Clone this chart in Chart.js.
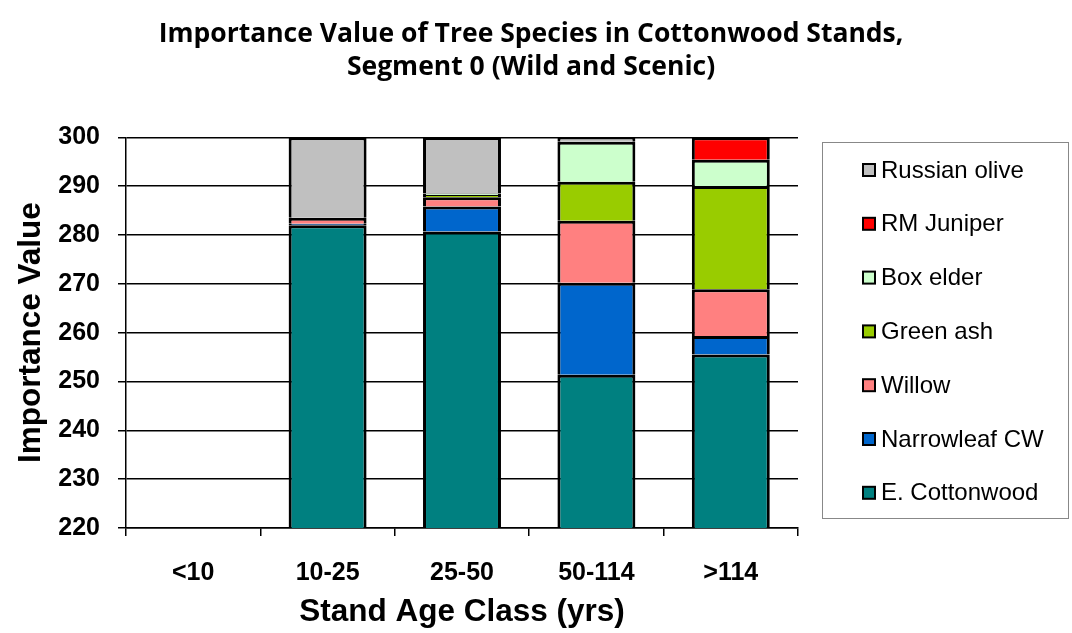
<!DOCTYPE html>
<html lang="en">
<head>
  <meta charset="UTF-8" />
  <title>Importance Value of Tree Species</title>
  <script src="https://cdn.jsdelivr.net/npm/chart.js"></script>
  <style>
    body {
      margin: 0;
      background: #fff;
    }
    .wrap {
      width: 1072px;
      height: 633px;
    }
  </style>
</head>
<body>

<div class="wrap">
  <canvas id="ivChart" width="1072" height="633"></canvas>
</div>

<script>
  const ageClasses = ['<10', '10-25', '25-50', '50-114', '>114'];

  // importance values per species, one entry per age class (stacks total 300)
  // null = species absent in that class
  const eCottonwood   = [null, 282.0, 280.7, 251.4, 255.5];
  const narrowleafCW  = [null, 0.3, 5.1, 18.8, 3.8];
  const willow        = [null, 1.2, 1.9, 12.7, 9.6];
  const greenAsh      = [null, null, 0.5, 8.0, 21.1];
  const boxElder      = [null, null, 0.3, 8.2, 5.4];
  const rmJuniper     = [null, null, null, null, 4.6];
  const russianOlive  = [null, 16.5, 11.5, 0.9, null];

  const yTicks = [220, 230, 240, 250, 260, 270, 280, 290, 300];

  const series = [
    { label: 'E. Cottonwood', data: eCottonwood, color: '#008080' },
    { label: 'Narrowleaf CW', data: narrowleafCW, color: '#0066CC' },
    { label: 'Willow', data: willow, color: '#FF8080' },
    { label: 'Green ash', data: greenAsh, color: '#99CC00' },
    { label: 'Box elder', data: boxElder, color: '#CCFFCC' },
    { label: 'RM Juniper', data: rmJuniper, color: '#FF0000' },
    { label: 'Russian olive', data: russianOlive, color: '#C0C0C0' }
  ];

  // boxed legend on the right, listed top-down in reverse stack order
  const boxLegend = {
    id: 'boxLegend',
    afterDraw(chart) {
      const ctx = chart.ctx;
      const x0 = 822, y0 = 142, w = 246, h = 376;
      ctx.save();
      ctx.strokeStyle = '#888';
      ctx.lineWidth = 1;
      ctx.strokeRect(x0 + 0.5, y0 + 0.5, w, h);
      ctx.font = '24px "Liberation Sans", Arial, sans-serif';
      ctx.textBaseline = 'middle';
      const items = chart.data.datasets.slice().reverse();
      items.forEach((ds, i) => {
        const cy = y0 + 28 + i * 53.8;
        ctx.fillStyle = ds.backgroundColor;
        ctx.fillRect(863, cy - 6, 12, 12);
        ctx.strokeStyle = '#000';
        ctx.lineWidth = 2;
        ctx.strokeRect(863, cy - 6, 12, 12);
        ctx.fillStyle = '#000';
        ctx.fillText(ds.label, 881, cy + 1);
      });
      ctx.restore();
    }
  };

  const axisFont = { family: '"Liberation Sans", Arial, sans-serif', weight: 'bold' };

  new Chart(document.getElementById('ivChart'), {
    type: 'bar',
    data: {
      labels: ageClasses,
      datasets: series.map(s => ({
        label: s.label,
        data: s.data,
        backgroundColor: s.color,
        borderColor: '#000',
        borderWidth: 3,
        // no bottom edge: the segment below supplies the dividing line
        borderSkipped: 'start',
        barPercentage: 0.58,
        categoryPercentage: 1
      }))
    },
    options: {
      responsive: false,
      animation: false,
      layout: { padding: { left: 0, right: 10, top: 0, bottom: 2 } },
      plugins: {
        legend: { display: false },
        tooltip: { enabled: false },
        title: {
          display: true,
          text: ['Importance Value of Tree Species in Cottonwood Stands,', 'Segment 0 (Wild and Scenic)'],
          color: '#000',
          font: { family: '"Open Sans", sans-serif', size: 26.5, weight: 'bold', lineHeight: 1.25 },
          padding: { top: 18, bottom: 53 }
        }
      },
      scales: {
        x: {
          stacked: true,
          grid: { offset: true, drawOnChartArea: false, color: '#000', lineWidth: 1.5, tickLength: 8 },
          border: { color: '#000', width: 1.5 },
          ticks: { color: '#000', font: { ...axisFont, size: 25 }, padding: 22 },
          title: {
            display: true,
            text: 'Stand Age Class (yrs)',
            color: '#000',
            font: { ...axisFont, size: 31.5 },
            padding: { top: 5, bottom: 0 }
          },
          afterFit(scale) {
            scale.height = 103;
          }
        },
        y: {
          stacked: true,
          min: 220,
          max: 300,
          afterBuildTicks(axis) {
            axis.ticks = yTicks.map(v => ({ value: v }));
          },
          grid: { color: '#000', lineWidth: 1.5, tickLength: 8 },
          border: { color: '#000', width: 1.5 },
          ticks: { color: '#000', font: { ...axisFont, size: 25 }, padding: 18 },
          title: {
            display: true,
            text: 'Importance Value',
            color: '#000',
            font: { ...axisFont, size: 31.5 },
            padding: { top: 12, bottom: 8 }
          },
          afterFit(scale) {
            scale.width = 126;
          }
        },
        // empty right-hand box that reserves room for the legend
        side: {
          type: 'linear',
          position: 'right',
          grid: { display: false },
          border: { display: false },
          ticks: { display: false },
          afterFit(scale) {
            scale.width = 264;
          }
        }
      }
    },
    plugins: [boxLegend]
  });
</script>

</body>
</html>
